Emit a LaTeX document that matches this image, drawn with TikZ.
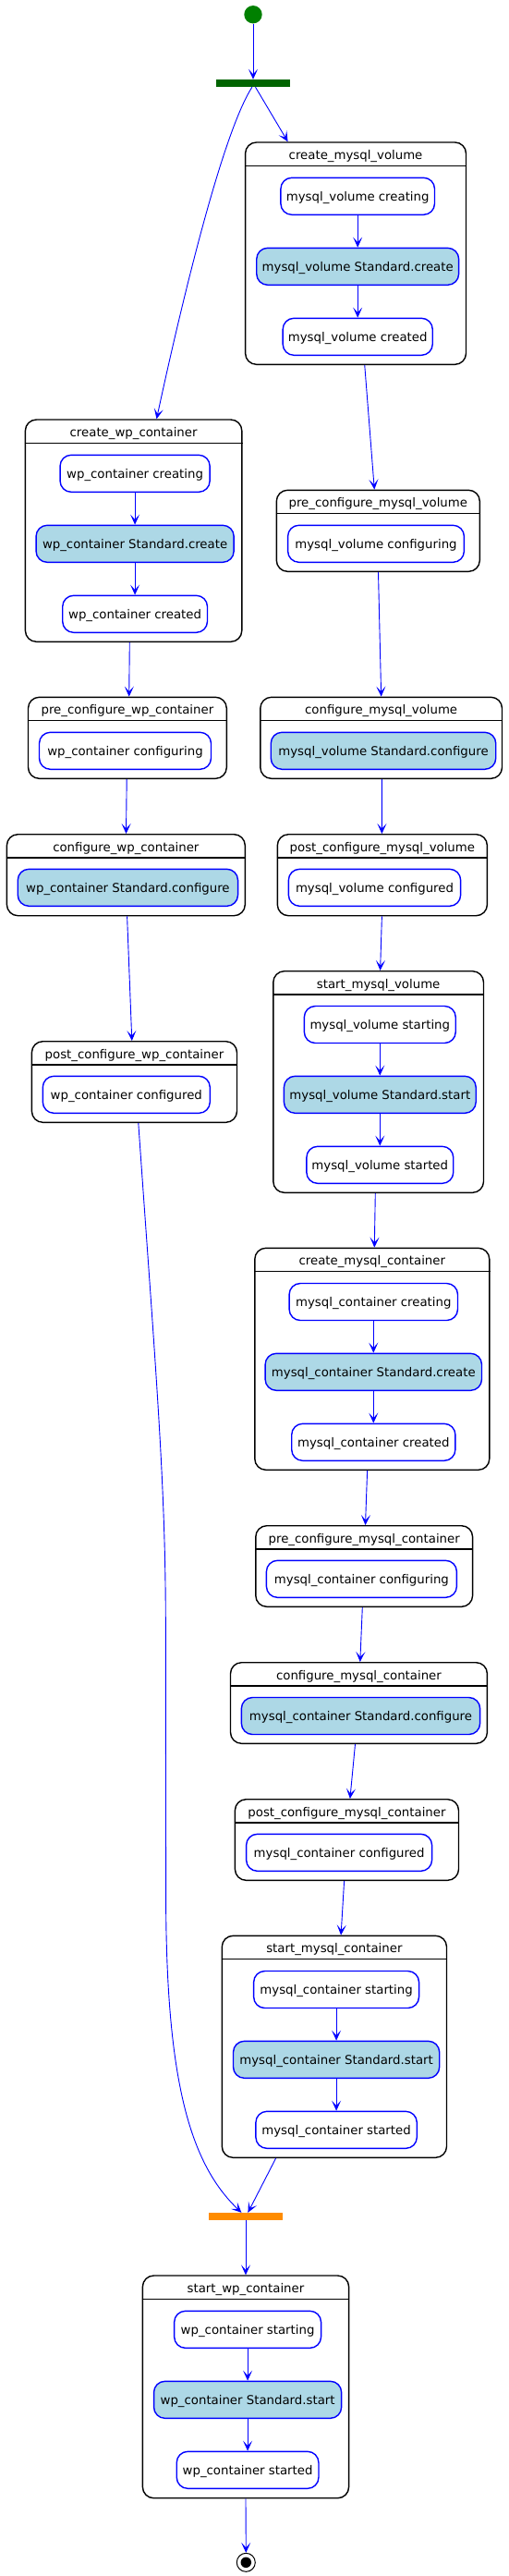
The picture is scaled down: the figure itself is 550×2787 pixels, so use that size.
\documentclass[tikz,border=0pt]{standalone}
\usepackage{fontspec}
\setmainfont{DejaVu Sans}
\usetikzlibrary{arrows.meta,calc}
\definecolor{lblue}{HTML}{ADD8E6}
\definecolor{sgreen}{HTML}{008000}
\definecolor{fgreen}{HTML}{006400}
\definecolor{jorange}{HTML}{FF8C00}
\tikzset{
 comp/.style={draw=black, line width=1.4pt, rounded corners=12pt, fill=white, inner sep=0pt},
 hdr/.style={draw=black, line width=1.2pt},
 ttl/.style={anchor=base, inner sep=0pt, font=\fontsize{13.3}{16}\selectfont},
 act/.style={draw=blue, line width=1.4pt, rounded corners=12pt, fill=white, minimum height=40pt, inner xsep=4pt, inner ysep=0pt, text height=13.8pt, text depth=3pt, font=\fontsize{13.3}{16}\selectfont},
 stdact/.style={act, fill=lblue},
 flow/.style={draw=blue, line width=0.9pt, -{Stealth[length=11pt, width=10pt, inset=5.5pt]}},
}
\newcommand\mkcomp[6]{%
 \node[comp, minimum width=#4pt, minimum height=#5pt] (#1) at (#2,#3) {};
 \node[ttl] (#1t) at ([yshift=-19.3pt]#1.north) {#6};
 \draw[hdr] ([yshift=-26pt]#1.north west) -- ([yshift=-26pt]#1.north east);
}
\newcommand\mkact[6]{\node[#1, minimum width=#5pt] (#2) at (#3,#4) {#6};}
\begin{document}
\begin{tikzpicture}[x=1pt,y=1pt]
\useasboundingbox (0,0) rectangle (550,-2787);
% composites
\mkcomp{cmv}{385.05}{-274.15}{238.9}{240.3}{create\_mysql\_volume}
\mkcomp{pmv}{409.3}{-574.3}{220}{88}{pre\_configure\_mysql\_volume}
\mkcomp{gmv}{412.65}{-798.3}{261.7}{88}{configure\_mysql\_volume}
\mkcomp{qmv}{413.85}{-946.7}{227.1}{88}{post\_configure\_mysql\_volume}
\mkcomp{smv}{409.65}{-1170.5}{227.7}{239.6}{start\_mysql\_volume}
\mkcomp{cmc}{402.8}{-1470.3}{254}{240}{create\_mysql\_container}
\mkcomp{pmc}{394.2}{-1694.5}{234.8}{87.6}{pre\_configure\_mysql\_container}
\mkcomp{gmc}{388.45}{-1842.5}{277.9}{87.6}{configure\_mysql\_container}
\mkcomp{qmc}{375.45}{-1990.5}{242.1}{87.6}{post\_configure\_mysql\_container}
\mkcomp{smc}{361.9}{-2214.3}{243.2}{240}{start\_mysql\_container}
\mkcomp{cwc}{144.6}{-574.15}{234.4}{240.3}{create\_wp\_container}
\mkcomp{pwc}{137.9}{-798.3}{214.8}{88}{pre\_configure\_wp\_container}
\mkcomp{gwc}{136.35}{-946.7}{257.9}{88}{configure\_wp\_container}
\mkcomp{qwc}{145.45}{-1170.5}{222.1}{87.6}{post\_configure\_wp\_container}
\mkcomp{swc}{266}{-2582.35}{223.2}{240.7}{start\_wp\_container}
% activities
\mkact{act}{cmv1}{387.2}{-212.3}{166.6}{mysql\_volume creating}
\mkact{stdact}{cmv2}{387.2}{-288.3}{218.9}{mysql\_volume Standard.create}
\mkact{act}{cmv3}{387.2}{-364.3}{162.1}{mysql\_volume created}
\mkact{act}{pmv1}{407.0}{-588.3}{190.8}{mysql\_volume configuring}
\mkact{stdact}{gmv1}{415.0}{-812.3}{243.5}{mysql\_volume Standard.configure}
\mkact{act}{qmv1}{405.5}{-960.3}{186.3}{mysql\_volume configured}
\mkact{act}{smv1}{411.3}{-1108.5}{163.9}{mysql\_volume starting}
\mkact{stdact}{smv2}{411.3}{-1184.3}{207.8}{mysql\_volume Standard.start}
\mkact{act}{smv3}{411.3}{-1260.3}{158.9}{mysql\_volume started}
\mkact{act}{cmc1}{404.3}{-1408.5}{182.4}{mysql\_container creating}
\mkact{stdact}{cmc2}{404.3}{-1484.3}{234.4}{mysql\_container Standard.create}
\mkact{act}{cmc3}{404.3}{-1560.3}{177.2}{mysql\_container created}
\mkact{act}{pmc1}{391.4}{-1708.3}{206.0}{mysql\_container configuring}
\mkact{stdact}{gmc1}{390.5}{-1856.5}{258.3}{mysql\_container Standard.configure}
\mkact{act}{qmc1}{367.1}{-2004.3}{201.0}{mysql\_container configured}
\mkact{act}{smc1}{364.1}{-2152.5}{178.9}{mysql\_container starting}
\mkact{stdact}{smc2}{364.1}{-2228.3}{223.2}{mysql\_container Standard.start}
\mkact{act}{smc3}{364.1}{-2304.3}{174.4}{mysql\_container started}
\mkact{act}{cwc1}{146.1}{-512.3}{162.1}{wp\_container creating}
\mkact{stdact}{cwc2}{146.1}{-588.3}{214.1}{wp\_container Standard.create}
\mkact{act}{cwc3}{146.1}{-664.3}{156.8}{wp\_container created}
\mkact{act}{pwc1}{135.5}{-812.3}{186.0}{wp\_container configuring}
\mkact{stdact}{gwc1}{138.4}{-960.3}{238.3}{wp\_container Standard.configure}
\mkact{act}{qwc1}{136.8}{-1184.3}{181.0}{wp\_container configured}
\mkact{act}{swc1}{268.1}{-2520.3}{158.9}{wp\_container starting}
\mkact{stdact}{swc2}{268.1}{-2596.3}{203.1}{wp\_container Standard.start}
\mkact{act}{swc3}{268.1}{-2672.3}{153.7}{wp\_container started}
% pseudo states
\node[circle, fill=sgreen, minimum size=19.4pt, inner sep=0pt] (start) at (274,-15.7) {};
\node[rectangle, fill=fgreen, minimum width=80pt, minimum height=8pt, inner sep=0pt] (fork) at (274,-90) {};
\node[rectangle, fill=jorange, minimum width=80pt, minimum height=8pt, inner sep=0pt] (join) at (266,-2398) {};
\node[circle, draw=black, line width=1pt, fill=white, minimum size=20pt, inner sep=0pt] (end) at (266.3,-2772.3) {};
\node[circle, fill=black, minimum size=11.5pt, inner sep=0pt] (endc) at (end.center) {};
\coordinate (wa) at (179.3,-1750);
\coordinate (wb) at (179.6,-2050);
% inner flows
\foreach \a/\b in {cmv1/cmv2,cmv2/cmv3,smv1/smv2,smv2/smv3,cmc1/cmc2,cmc2/cmc3,smc1/smc2,smc2/smc3,cwc1/cwc2,cwc2/cwc3,swc1/swc2,swc2/swc3}
  \draw[flow] (\a.south) -- (\a.south |- \b.north);
% outer flows
\draw[flow] (start.south) -- (fork.north);
\draw[flow] ([xshift=2.5pt]fork.south) -- ([xshift=46.7pt]cmv.north west);
\draw[flow] ([xshift=-1.1pt]fork.south) .. controls +(-36.1,-56) and +(17.9,83.3) .. ([xshift=24.9pt]cwc.north);
\draw[flow] ([xshift=9.7pt]cmv.south) -- ([xshift=-4pt]pmv.north);
\draw[flow] ([xshift=0.2pt]pmv.south) -- (gmv.north);
\draw[flow] ([xshift=0.75pt]gmv.south) -- ([xshift=-0.45pt]qmv.north);
\draw[flow] ([xshift=-0.45pt]qmv.south) -- ([xshift=1.95pt]smv.north);
\draw[flow] ([xshift=-3.35pt]smv.south) -- ([xshift=2.5pt]cmc.north);
\draw[flow] ([xshift=-5.2pt]cmc.south) -- ([xshift=1.3pt]pmc.north);
\draw[flow] ([xshift=-1.9pt]pmc.south) -- ([xshift=1.35pt]gmc.north);
\draw[flow] ([xshift=-3.95pt]gmc.south) -- ([xshift=3.45pt]qmc.north);
\draw[flow] ([xshift=-2.85pt]qmc.south) -- ([xshift=7.2pt]smc.north);
\draw[flow] ([xshift=59pt]smc.south west) -- ([xshift=2.4pt]join.north);
\draw[flow] ([xshift=4.35pt]qwc.south) .. controls +(18.6,-265.7) and +(-0.4,150) .. (wa) -- (wb) .. controls +(0,-200) and +(-56.1,53.3) .. ([xshift=-4.6pt]join.north);
\draw[flow] (join.south) -- (swc.north);
\draw[flow] (swc.south) -- (end.north);
\draw[flow] ([xshift=-4.3pt]cwc.south) -- ([xshift=1.8pt]pwc.north);
\draw[flow] ([xshift=-0.7pt]pwc.south) -- ([xshift=0.15pt]gwc.north);
\draw[flow] ([xshift=1.25pt]gwc.south) -- ([xshift=-2.65pt]qwc.north);
\end{tikzpicture}
\end{document}
